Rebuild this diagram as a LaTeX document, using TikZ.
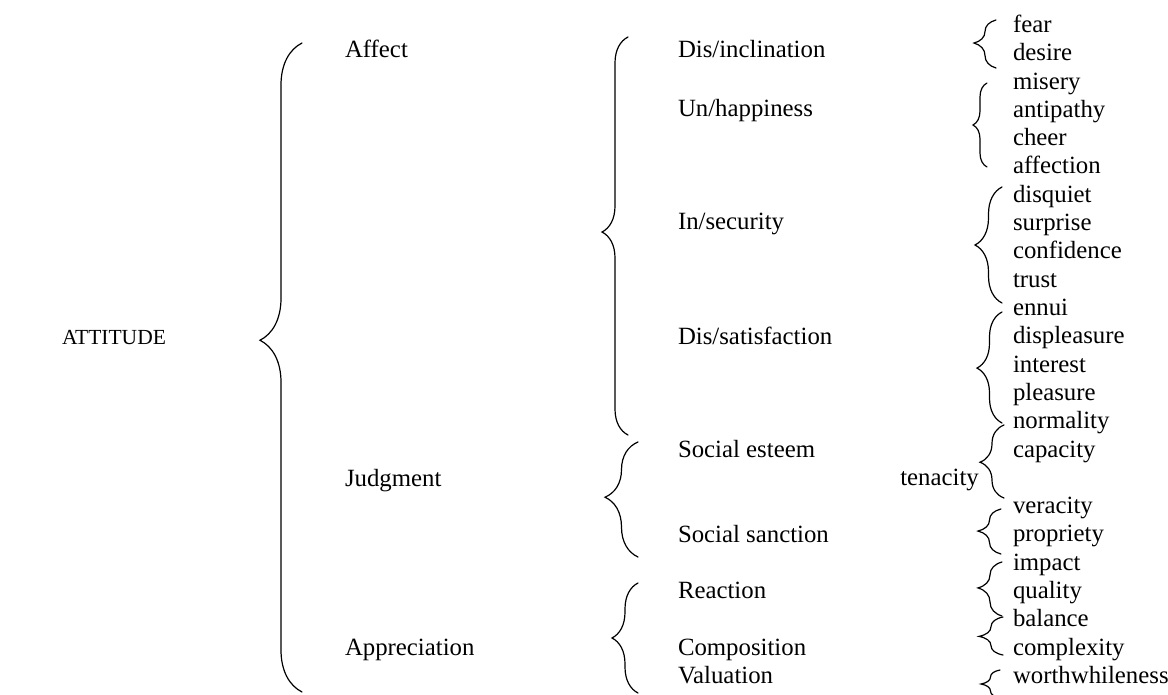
\documentclass[tikz,border=0pt]{standalone}
\usepackage{fontspec}
\setmainfont{Liberation Serif}
\usetikzlibrary{decorations.pathreplacing}
\newcommand\mybrace[6]{%
  \coordinate (#1t) at (#2,#3);
  \coordinate (#1b) at (#2,#4);
  \draw[brc, decoration={brace, amplitude=#5pt, aspect=#6}] (#1b) -- (#1t);}
\begin{document}
\begin{tikzpicture}[x=1pt,y=-1pt,
  font=\fontsize{24.8}{28}\selectfont,
  lbl/.style={anchor=base west, inner sep=0pt, outer sep=0pt},
  brc/.style={decorate, line width=1.2pt, line cap=round}]
\useasboundingbox (0,0) rectangle (1168,695);
% level 0 and 1
\node[lbl, font=\fontsize{21.5}{26}\selectfont] (attitude) at (62,344) {ATTITUDE};
\node[lbl] (affect) at (345,58) {Affect};
\node[lbl] (judgment) at (345,486) {Judgment};
\node[lbl] (appreciation) at (345,655) {Appreciation};
% level 2
\node[lbl] (disincl) at (678,58) {Dis/inclination};
\node[lbl] (unhapp) at (678,117) {Un/happiness};
\node[lbl] (insec) at (678,230) {In/security};
\node[lbl] (dissat) at (678,344) {Dis/satisfaction};
\node[lbl] (esteem) at (678,457) {Social esteem};
\node[lbl] (sanction) at (678,542) {Social sanction};
\node[lbl] (reaction) at (678,598.5) {Reaction};
\node[lbl] (composition) at (678,655) {Composition};
\node[lbl] (valuation) at (678,683) {Valuation};
% level 3
\foreach \w/\k in {fear/0,desire/1,misery/2,antipathy/3,cheer/4,affection/5,
  disquiet/6,surprise/7,confidence/8,trust/9,ennui/10,displeasure/11,
  interest/12,pleasure/13,normality/14,capacity/15,veracity/17,propriety/18,
  impact/19,quality/20,balance/21,complexity/22,worthwhileness/23}
  \node[lbl] (w\k) at (1013,32.5+28.3*\k) {\w};
\node[anchor=base east, inner sep=0pt] (tenacity) at (979,485.3) {tenacity};
% braces
\mybrace{B0}{302}{43}{692}{42}{0.542}
\mybrace{M1}{628}{37}{435}{26}{0.51}
\mybrace{M2}{638}{442}{557}{33}{0.52}
\mybrace{M3}{638}{583}{693}{26}{0.5}
\mybrace{RA}{996}{20}{68}{22}{0.52}
\mybrace{RB}{987}{83}{167}{14}{0.5}
\mybrace{RC}{1002}{187}{303}{27}{0.5}
\mybrace{RD}{1002}{312}{423}{25}{0.495}
\mybrace{RE}{1004}{425}{498}{24}{0.49}
\mybrace{RF}{1001}{509}{554}{23}{0.51}
\mybrace{RG}{1002}{562}{616}{24}{0.52}
\mybrace{RH}{1003}{617}{655}{24}{0.49}
\mybrace{RI}{1000}{670}{698}{19}{0.5}
\end{tikzpicture}
\end{document}
